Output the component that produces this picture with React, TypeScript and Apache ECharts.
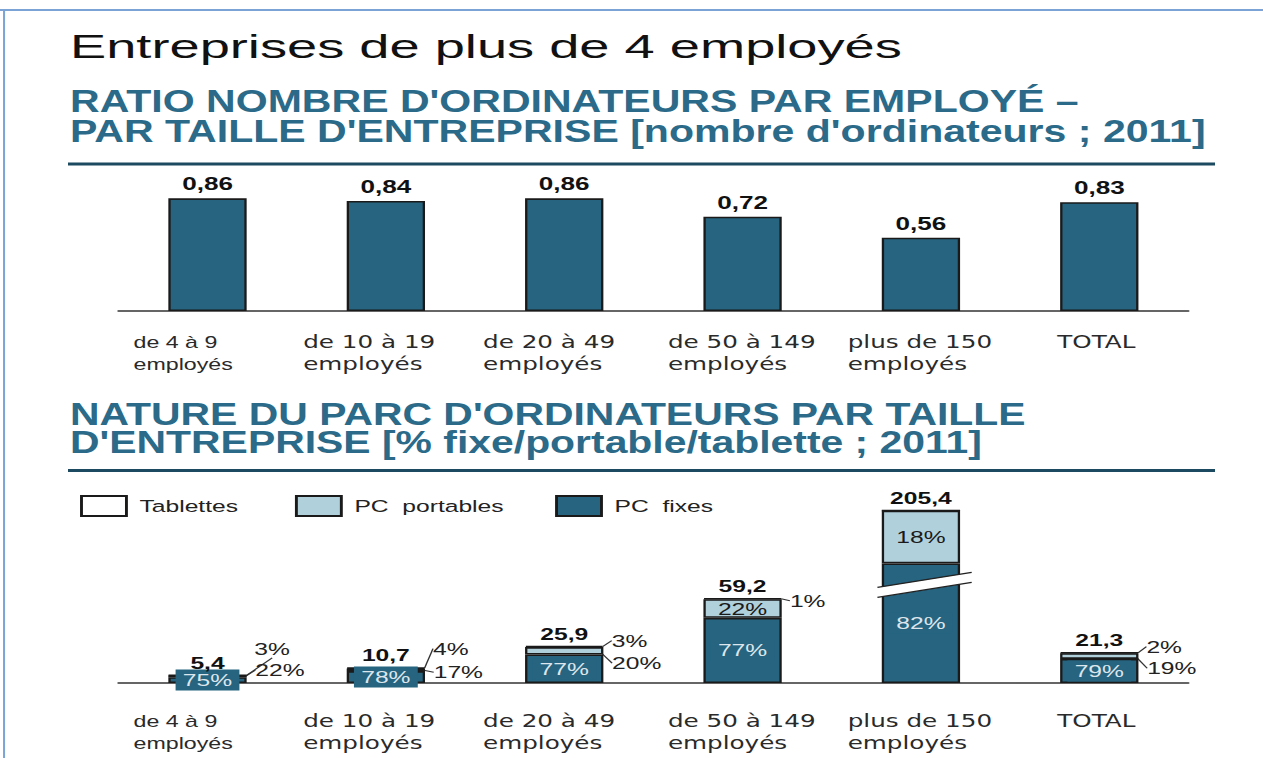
import React, { useEffect, useRef } from 'react';
import * as echarts from 'echarts';

// ---------- data ----------
const categories = [
  'de 4 à 9\nemployés',
  'de 10 à 19\nemployés',
  'de 20 à 49\nemployés',
  'de 50 à 149\nemployés',
  'plus de 150\nemployés',
  'TOTAL',
];
const ratioOrdinateurs = [0.86, 0.84, 0.86, 0.72, 0.56, 0.83];
const totalOrdinateurs = [5.4, 10.7, 25.9, 59.2, 205.4, 21.3];
const pctFixes = [75, 78, 77, 77, 82, 79];
const pctPortables = [22, 17, 20, 22, 18, 19];
const pctTablettes = [3, 4, 3, 1, 0, 2];

// ---------- layout / style ----------
const W = 871;
const H = 758;
const SCALE_X = 1263 / W;
const ARIAL = '"Liberation Sans", Arial, Helvetica, sans-serif';
const DEJAVU = '"DejaVu Sans", "Liberation Sans", sans-serif';
const TEAL = '#266480';
const LIGHT = '#b0d0dc';
const BORDER = '#1a1a1a';
const TITLE_TEAL = '#2b6a88';
const BREAK_START = 68;
const BREAK_END = 154;

const labelBlockWidths = [102, 114, 112, 103, 101, 58];
const portInside = [false, false, false, true, true, false];
const portLabelDy = [-5.5, 3.7, 16, 0, 0, 15];
const tabLabelDy = [-25.3, -18.7, -5, 2.7, 0, -5.5];

const fmt = (v: number, d: number) => v.toFixed(d).replace('.', ',');

function baseGraphics(): any[] {
  const teal = (id: string, text: string, y: number, size: number, sx: number) => ({
    id,
    type: 'text',
    x: 48.3,
    y,
    scaleX: sx,
    style: {
      text,
      fill: TITLE_TEAL,
      fontFamily: ARIAL,
      fontWeight: 'bold',
      fontSize: size,
      align: 'left',
      verticalAlign: 'middle',
    },
  });
  return [
    { id: 'frameTop', type: 'line', shape: { x1: 0, y1: 10, x2: W, y2: 10 }, style: { stroke: '#7ba3d6', lineWidth: 2 } },
    { id: 'frameLeft', type: 'line', shape: { x1: 2.8, y1: 10, x2: 2.8, y2: H }, style: { stroke: '#7ba3d6', lineWidth: 1.4 } },
    {
      id: 'title',
      type: 'text',
      x: 48.3,
      y: 46.7,
      scaleX: 1.1,
      style: {
        text: 'Entreprises de plus de 4 employés',
        fill: '#111',
        fontFamily: ARIAL,
        fontSize: 34,
        align: 'left',
        verticalAlign: 'middle',
      },
    },
    teal('t1a', "RATIO NOMBRE D'ORDINATEURS PAR EMPLOYÉ –", 100.8, 32, 0.885),
    teal('t1b', "PAR TAILLE D'ENTREPRISE [nombre d'ordinateurs ; 2011]", 130.7, 32, 0.885),
    teal('t2a', "NATURE DU PARC D'ORDINATEURS PAR TAILLE", 414, 31, 0.91),
    teal('t2b', "D'ENTREPRISE [% fixe/portable/tablette ; 2011]", 442.5, 31, 0.91),
    { id: 'sep1', type: 'rect', shape: { x: 46.9, y: 162.5, width: 791, height: 3 }, style: { fill: '#1c4a60' } },
    { id: 'sep2', type: 'rect', shape: { x: 46.9, y: 469, width: 791, height: 3 }, style: { fill: '#1c4a60' } },
  ];
}

function buildOption(): any {
  const rich: any = {};
  labelBlockWidths.forEach((w, i) => {
    rich['c' + i] = {
      width: w,
      align: 'left',
      fontFamily: i === 0 ? ARIAL : DEJAVU,
      fontSize: i === 0 ? 16 : 17,
      lineHeight: 22,
      color: '#2a2a2a',
    };
  });
  const catFormatter = (v: string, i: number) =>
    v.split('\n').map((s) => `{c${i}|${s}}`).join('\n');

  const xAxisBase = (gridIndex: number, margin: number) => ({
    type: 'category',
    gridIndex,
    data: categories,
    axisTick: { show: false },
    axisLine: { lineStyle: { color: '#333', width: 1.5 } },
    axisLabel: { interval: 0, margin, formatter: catFormatter, rich },
    splitLine: { show: false },
  });

  const barStyle = (color: string) => ({ color, borderColor: BORDER, borderWidth: 1.6 });

  const fixesData = totalOrdinateurs.map((t, i) => (t * pctFixes[i]) / 100);
  const portData = totalOrdinateurs.map((t, i) => ({
    value: (t * pctPortables[i]) / 100,
    label: portInside[i]
      ? { position: 'inside', color: '#1a1a1a' }
      : { position: [60, portLabelDy[i]], align: 'left', verticalAlign: 'middle' },
    labelLine: { show: !portInside[i] },
  }));
  const tabData = totalOrdinateurs.map((t, i) => ({
    value: (t * pctTablettes[i]) / 100,
    label: {
      show: pctTablettes[i] > 0,
      position: [60, tabLabelDy[i]],
      align: 'left',
      verticalAlign: 'middle',
    },
    labelLine: { show: pctTablettes[i] > 0 },
  }));
  const topData = totalOrdinateurs.map(() => 0);

  const legend = (name: string, left: number) => ({
    data: [name],
    left,
    top: 495,
    padding: 0,
    icon: 'rect',
    itemWidth: 31,
    itemHeight: 20,
    selectedMode: false,
    textStyle: { fontFamily: ARIAL, fontSize: 17, color: '#222', padding: [0, 0, 0, 4] },
  });

  return {
    animation: false,
    backgroundColor: '#ffffff',
    textStyle: { fontFamily: ARIAL },
    graphic: baseGraphics(),
    legend: [legend('Tablettes', 55.2), legend('PC  portables', 203.4), legend('PC  fixes', 382.8)],
    grid: [
      { left: 81.6, right: 51.4, top: 180, bottom: 447 },
      { left: 81.6, right: 51.4, top: 504, bottom: 75 },
    ],
    xAxis: [xAxisBase(0, 20), xAxisBase(1, 27)],
    yAxis: [
      { type: 'value', gridIndex: 0, min: 0, max: 1, show: false, splitLine: { show: false } },
      {
        type: 'value',
        gridIndex: 1,
        min: 0,
        max: 210,
        show: false,
        splitLine: { show: false },
        breaks: [{ start: BREAK_START, end: BREAK_END, gap: '1%' }],
        breakArea: { show: false },
      },
    ],
    series: [
      {
        name: 'ratio',
        type: 'bar',
        xAxisIndex: 0,
        yAxisIndex: 0,
        data: ratioOrdinateurs,
        barWidth: 54,
        itemStyle: barStyle(TEAL),
        label: {
          show: true,
          position: 'top',
          distance: 5,
          formatter: (p: any) => fmt(p.value, 2),
          fontFamily: ARIAL,
          fontWeight: 'bold',
          fontSize: 18,
          color: '#111',
        },
      },
      {
        name: 'PC  fixes',
        type: 'bar',
        stack: 'parc',
        xAxisIndex: 1,
        yAxisIndex: 1,
        data: fixesData,
        barWidth: 54,
        itemStyle: barStyle(TEAL),
        label: {
          show: true,
          position: 'inside',
          formatter: (p: any) => pctFixes[p.dataIndex] + '%',
          fontFamily: ARIAL,
          fontSize: 17,
          color: '#dde6ec',
          backgroundColor: TEAL,
          padding: [2, 5],
        },
      },
      {
        name: 'PC  portables',
        type: 'bar',
        stack: 'parc',
        xAxisIndex: 1,
        yAxisIndex: 1,
        data: portData,
        barWidth: 54,
        itemStyle: barStyle(LIGHT),
        label: {
          show: true,
          formatter: (p: any) => pctPortables[p.dataIndex] + '%',
          fontFamily: ARIAL,
          fontSize: 17,
          color: '#222',
        },
        labelLine: { show: true, lineStyle: { color: '#333', width: 1 } },
      },
      {
        name: 'Tablettes',
        type: 'bar',
        stack: 'parc',
        xAxisIndex: 1,
        yAxisIndex: 1,
        data: tabData,
        barWidth: 54,
        itemStyle: barStyle('#ffffff'),
        label: {
          show: true,
          formatter: (p: any) => pctTablettes[p.dataIndex] + '%',
          fontFamily: ARIAL,
          fontSize: 17,
          color: '#222',
        },
        labelLine: { show: true, lineStyle: { color: '#333', width: 1 } },
      },
      {
        name: 'total',
        type: 'bar',
        stack: 'parc',
        xAxisIndex: 1,
        yAxisIndex: 1,
        data: topData,
        barWidth: 54,
        itemStyle: { color: 'rgba(0,0,0,0)', borderWidth: 0 },
        label: {
          show: true,
          position: 'top',
          distance: 4,
          formatter: (p: any) => fmt(totalOrdinateurs[p.dataIndex], 1),
          fontFamily: ARIAL,
          fontWeight: 'bold',
          fontSize: 17,
          color: '#111',
        },
      },
    ],
  };
}

export default function App() {
  const ref = useRef<HTMLDivElement>(null);
  useEffect(() => {
    document.body.style.margin = '0';
    document.body.style.overflow = 'hidden';
    const el = ref.current!;
    const chart = echarts.init(el, null, { renderer: 'svg', width: W, height: H });
    chart.setOption(buildOption());

    // break marker on the tallest bar, positioned through the axis scale
    const bigIdx = totalOrdinateurs.indexOf(Math.max(...totalOrdinateurs));
    const lo = chart.convertToPixel({ xAxisIndex: 1, yAxisIndex: 1 }, [bigIdx, BREAK_START]) as number[];
    const hi = chart.convertToPixel({ xAxisIndex: 1, yAxisIndex: 1 }, [bigIdx, BREAK_END]) as number[];
    if (lo && hi && isFinite(lo[0]) && isFinite(lo[1])) {
      const cx = lo[0];
      const my = (lo[1] + hi[1]) / 2;
      const L = cx - 30;
      const R = cx + 35;
      const breakEls = [
        {
          id: 'brkFill',
          type: 'polygon',
          z: 100,
          shape: { points: [[L, my + 2.5], [R, my - 12.5], [R, my - 2.5], [L, my + 12.5]] },
          style: { fill: '#ffffff' },
        },
        { id: 'brkUp', type: 'line', z: 101, shape: { x1: L, y1: my + 2.5, x2: R, y2: my - 12.5 }, style: { stroke: '#222', lineWidth: 1.2 } },
        { id: 'brkDn', type: 'line', z: 101, shape: { x1: L, y1: my + 12.5, x2: R, y2: my - 2.5 }, style: { stroke: '#222', lineWidth: 1.2 } },
      ];
      chart.setOption({ graphic: [...baseGraphics(), ...breakEls] });
    }
    return () => chart.dispose();
  }, []);
  return (
    <div
      ref={ref}
      style={{
        position: 'absolute',
        left: 0,
        top: 0,
        width: W,
        height: H,
        transform: `scaleX(${SCALE_X})`,
        transformOrigin: '0 0',
      }}
    />
  );
}
